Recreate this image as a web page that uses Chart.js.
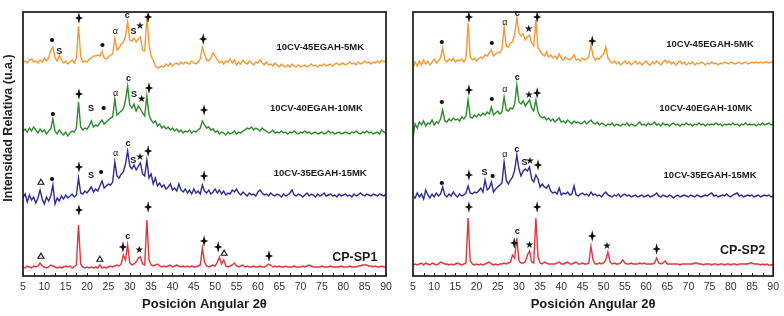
<!DOCTYPE html>
<html>
<head>
<meta charset="utf-8">
<script src="https://cdn.jsdelivr.net/npm/chart.js@4.4.1/dist/chart.umd.min.js"></script>
<style>
  body { margin: 0; background: #fff; }
  #wrap { position: relative; width: 784px; height: 316px; }
  .panel { position: absolute; top: 0; height: 316px; }
</style>
</head>
<body>
<div id="wrap">
  <div class="panel" style="left:0;width:400px"><canvas id="left" width="400" height="316"></canvas></div>
  <div class="panel" style="left:400px;width:384px"><canvas id="right" width="384" height="316"></canvas></div>
</div>
<script>
// 2-theta grid (degrees)
var twoTheta = [
  5,5.5,6,6.5,7,7.5,8,8.5,9,9.5,10,10.5,11,11.5,12,12.5,13,13.5,14,14.5,
  15,15.5,16,16.5,17,17.5,18,18.5,19,19.5,20,20.5,21,21.5,22,22.5,23,23.5,24,24.5,
  25,25.5,26,26.5,27,27.5,28,28.5,29,29.5,30,30.5,31,31.5,32,32.5,33,33.5,34,34.5,
  35,35.5,36,36.5,37,37.5,38,38.5,39,39.5,40,40.5,41,41.5,42,42.5,43,43.5,44,44.5,
  45,45.5,46,46.5,47,47.5,48,48.5,49,49.5,50,50.5,51,51.5,52,52.5,53,53.5,54,54.5,
  55,55.5,56,56.5,57,57.5,58,58.5,59,59.5,60,60.5,61,61.5,62,62.5,63,63.5,64,64.5,
  65,65.5,66,66.5,67,67.5,68,68.5,69,69.5,70,70.5,71,71.5,72,72.5,73,73.5,74,74.5,
  75,75.5,76,76.5,77,77.5,78,78.5,79,79.5,80,80.5,81,81.5,82,82.5,83,83.5,84,84.5,
  85,85.5,86,86.5,87,87.5,88,88.5,89,89.5,90
];

// ---- panel 1 (SP1) intensities, relative to each pattern's own baseline ----
var sp1_45_5 = [
  2,3,1,4,5,2,3,1,4,2, 6,3,6,14,17,6,3,9,4,1,
  3,0,2,4,1,6,38,8,2,3, 2,5,6,8,8,9,8,13,6,5,
  7,9,10,26,14,16,20,22,28,42, 24,23,26,22,25,27,14,13,48,20,
  8,4,-2,-4,-3,-2,-3,0,-2,1, -2,0,1,-1,2,0,2,1,0,3,
  1,0,2,5,17,10,4,3,6,11, 8,4,1,3,0,3,2,5,1,4,
  -1,2,0,4,1,0,3,1,-1,2, 1,4,1,-1,2,-1,0,-2,1,-1,
  -3,0,-2,-3,-1,-3,0,-2,-3,-1, -3,-2,-1,-3,-2,0,-2,-1,-3,-1,
  -2,0,-2,-1,0,-2,0,1,-1,0, 1,-1,0,2,0,1,-1,2,0,1,
  3,1,2,0,2,1,3,1,4,2,3
];
var sp1_40_10 = [
  2,4,1,5,2,6,3,0,4,1, 3,-1,2,4,14,2,-1,3,0,-2,
  1,-3,0,2,1,5,31,6,3,5, 4,7,12,6,8,7,10,13,9,11,
  13,15,16,34,18,20,22,24,33,47, 28,25,29,22,27,24,20,17,37,18,
  13,10,12,7,9,5,7,4,6,3, 5,2,4,1,3,0,2,1,3,0,
  2,1,3,5,12,8,5,6,3,4, 1,2,-1,1,0,-2,1,-1,0,2,
  -1,1,0,2,3,5,4,6,3,5, 4,2,5,3,2,0,1,3,0,1,
  0,2,0,1,-1,1,0,2,0,-1, 1,0,2,0,1,-1,0,1,-1,0,
  1,-1,0,2,0,1,-1,0,1,-1, 0,1,0,-1,1,0,2,0,-1,1,
  0,2,0,1,-1,0,1,-1,3,1,0
];
var sp1_35_15 = [
  -2,2,-6,1,-4,-1,-7,-2,6,-3, -8,-1,-5,0,11,-8,-2,-5,0,-3,
  1,-2,0,2,-1,1,18,3,2,5, 3,6,9,4,7,5,10,15,8,10,
  12,11,14,34,20,18,22,24,32,45, 30,27,31,26,30,33,22,20,36,18,
  22,12,18,10,13,9,11,7,9,12, 6,8,5,12,6,4,7,3,6,2,
  7,3,5,2,11,5,3,6,2,4, 7,3,6,2,5,1,3,2,6,4,
  7,3,1,4,2,0,3,1,2,0, 4,6,3,1,2,0,3,1,0,2,
  1,-1,2,0,1,3,6,1,0,2, 1,-1,1,3,0,2,1,-1,2,0,
  1,3,0,1,2,0,1,-1,2,0, 1,2,0,1,-1,2,0,1,3,1,
  0,2,1,0,2,1,0,2,1,0,2
];
var sp1_paste = [
  1,0,2,1,0,2,1,2,5,2, 1,0,1,3,2,1,0,1,0,1,
  2,1,2,0,1,3,43,4,1,0, 1,0,1,0,1,0,3,0,1,0,
  1,2,1,2,3,2,4,13,8,23, 5,3,4,6,10,11,4,3,48,8,
  3,2,3,4,2,1,2,1,2,3, 1,2,3,2,1,2,1,2,1,2,
  1,1,2,3,20,6,2,1,2,3, 2,6,11,4,8,2,1,2,3,5,
  2,1,2,3,1,2,1,1,2,1, 1,2,1,1,2,4,3,1,2,1,
  2,1,1,2,1,1,1,2,1,1, 1,2,1,2,3,2,1,1,1,1,
  2,1,1,1,2,1,1,1,1,2, 1,1,1,2,1,1,1,2,2,3,
  3,3,2,2,1,2,1,1,2,1,1
];

// ---- panel 2 (SP2) ----
var sp2_45_5 = [
  -4,2,-2,3,-1,4,0,3,-1,2, 5,1,3,6,16,4,2,5,3,6,
  2,4,3,5,2,6,41,7,4,6, 3,5,7,6,9,8,11,14,8,10,
  12,11,15,37,18,17,21,22,30,46, 31,28,30,24,27,29,21,18,44,16,
  13,10,8,12,7,9,6,8,5,10, 6,4,7,5,4,6,9,4,5,3,
  6,4,5,7,19,8,4,6,5,8, 10,17,6,3,1,3,0,2,-1,1,
  3,0,2,-1,1,3,0,2,-1,1, 3,0,-1,2,0,3,1,-1,2,4,
  1,3,0,2,-1,1,3,0,2,-1, 1,0,2,-1,1,0,2,1,-1,1,
  0,2,0,1,-1,1,0,2,1,0, 2,1,0,1,2,0,1,2,0,1,
  2,1,2,1,2,1,2,2,1,2,2
];
var sp2_40_10 = [
  -11,2,-2,4,1,5,0,3,2,6, 1,4,3,7,16,5,4,7,5,8,
  6,7,5,9,7,10,26,9,8,11, 9,12,10,13,11,14,12,19,11,13,
  15,12,14,29,16,15,18,17,22,41, 24,22,25,20,23,26,18,15,26,14,
  10,8,9,6,8,5,7,4,6,8, 4,5,3,6,4,2,5,3,4,2,
  3,5,2,4,6,3,2,4,1,3, 2,0,2,1,3,0,2,1,0,2,
  1,3,0,2,1,0,2,4,1,2, 0,3,1,2,4,1,2,0,3,1,
  2,0,2,3,1,2,0,2,1,3, 1,2,0,2,1,3,1,2,0,2,
  1,2,1,3,1,2,0,2,1,2, 1,3,1,2,0,2,1,3,1,2,
  1,2,0,2,1,3,1,2,3,1,2
];
var sp2_35_15 = [
  0,-2,3,-1,2,-3,6,1,-2,2, -1,3,0,2,9,1,-1,2,0,4,
  1,-1,2,0,1,3,10,3,2,4, 3,5,8,4,16,6,8,14,4,7,
  9,11,13,34,16,12,16,19,26,41, 27,20,25,27,25,29,17,14,21,17,
  9,12,9,8,11,5,3,4,2,8, 1,3,2,4,1,2,10,1,0,2,
  3,1,2,0,4,1,2,0,1,-1, 2,4,1,0,-1,1,0,2,-1,1,
  2,0,1,-1,0,1,-1,0,1,-1, 0,1,-1,0,1,3,0,-1,1,0,
  -1,1,0,-2,0,1,-1,0,1,0, -1,1,0,-1,1,0,-1,0,1,0,
  2,3,0,1,-1,0,1,0,2,0, -1,1,2,3,0,1,-1,0,1,0,
  1,-1,0,1,-1,0,1,0,1,-1,0
];
var sp2_paste = [
  0,1,0,1,2,0,2,1,0,2, 1,0,1,3,2,1,1,0,1,0,
  1,2,1,0,1,2,47,4,1,0, 1,0,1,0,1,2,3,1,0,1,
  0,1,1,2,1,2,3,10,7,27, 4,2,2,3,10,14,3,2,47,8,
  2,1,3,2,1,1,1,1,2,3, 1,1,2,3,1,1,2,3,1,1,
  2,1,1,2,19,5,1,1,2,1, 2,5,13,3,1,2,1,1,2,5,
  2,1,1,2,1,1,1,2,1,2, 1,1,1,1,2,7,2,1,2,4,
  1,1,1,1,1,1,0,1,1,1, 1,1,1,2,2,1,1,0,1,1,
  1,0,1,1,0,1,1,0,1,1, 0,1,1,0,1,1,1,1,1,2,
  2,1,1,1,0,1,0,1,0,0,0
];

var namesLeft = ['10CV-45EGAH-5MK', '10CV-40EGAH-10MK', '10CV-35EGAH-15MK', 'CP-SP1'];
var namesRight = ['10CV-45EGAH-5MK', '10CV-40EGAH-10MK', '10CV-35EGAH-15MK', 'CP-SP2'];

// vertical stacking offsets of each pattern (chart units)
var offsetsLeft = [212, 143, 80, 8];
var offsetsRight = [212, 150, 80, 11];
var colors = ['#f39a36', '#2c8c2c', '#2d2d8f', '#e2353c'];

// phase markers: [2theta, height, symbol]
var markersLeft = [
  [11.8,236,'●'],[13.5,224,'S'],[18.1,258,'✦'],[23.6,231,'●'],[26.6,244,'α'],[29.4,260,'c'],[30.9,244,'S'],[32.4,250,'★'],[34.3,259,'✦'],[47.2,237,'✦'],
  [12,162,'●'],[18.1,182,'✦'],[20.9,167,'S'],[23.9,168,'●'],[26.7,182,'α'],[29.7,197,'c'],[31,181,'S'],[32.8,177,'★'],[34.5,188,'✦'],[47.4,166,'✦'],
  [9.2,94,'Δ'],[11.8,97,'●'],[18.1,109,'✦'],[20.9,100,'S'],[23.3,104,'●'],[26.7,122,'α'],[29.6,132,'c'],[30.8,115,'S'],[32.4,119,'★'],[34.3,125,'✦'],[47.4,100,'✦'],
  [9.2,20,'Δ'],[18.1,66,'✦'],[23,17,'Δ'],[28.4,29,'✦'],[29.5,39,'c'],[32.2,26,'★'],[34.3,69,'✦'],[47.4,35,'✦'],[50.7,29,'✦'],[52.1,23,'Δ'],[62.6,20,'✦']
];
var markersRight = [
  [11.8,234,'●'],[18.2,259,'✦'],[23.6,233,'●'],[26.7,253,'α'],[29.6,262,'c'],[32.3,247,'★'],[34.3,259,'✦'],[47.3,235,'✦'],
  [11.8,174,'●'],[18.2,186,'✦'],[23.6,177,'●'],[26.7,186,'α'],[29.6,198,'c'],[32.4,181,'★'],[34.3,183,'✦'],
  [11.8,93,'●'],[18.2,101,'✦'],[21.9,103,'S'],[23.8,100,'●'],[26.7,121,'α'],[29.5,126,'c'],[31.3,113,'S'],[32.6,115,'★'],[34.5,111,'✦'],
  [18.2,69,'✦'],[28.9,33,'✦'],[29.6,44,'c'],[32.5,31,'★'],[34.3,69,'✦'],[47.3,40,'✦'],[50.8,30,'★'],[62.5,27,'✦']
];

// sample names: [2theta centre, height, size]
var labelPosLeft = [[74.6,229,9.5],[73.7,168,9.5],[74.6,103,9.5],[82.7,18,12.5]];
var labelPosRight = [[75.1,232,9.5],[74.1,168,9.5],[75.1,101,9.5],[82.8,25,12.5]];

var FONT = '"Liberation Sans", Arial, sans-serif';

function toPoints(vals, off) {
  return vals.map(function (v, i) { return { x: twoTheta[i], y: v + off }; });
}

function drawMarker(ctx, x, y, s) {
  ctx.fillStyle = '#111';
  ctx.strokeStyle = '#111';
  ctx.textAlign = 'center';
  ctx.textBaseline = 'middle';
  if (s === '✦') {
    ctx.beginPath();
    ctx.moveTo(x, y - 5.8);
    ctx.lineTo(x + 1.2, y - 1.2);
    ctx.lineTo(x + 4.2, y);
    ctx.lineTo(x + 1.2, y + 1.2);
    ctx.lineTo(x, y + 5.8);
    ctx.lineTo(x - 1.2, y + 1.2);
    ctx.lineTo(x - 4.2, y);
    ctx.lineTo(x - 1.2, y - 1.2);
    ctx.closePath();
    ctx.fill();
  } else if (s === '●') {
    ctx.beginPath();
    ctx.arc(x, y, 2.1, 0, Math.PI * 2);
    ctx.fill();
  } else if (s === 'Δ') {
    ctx.lineWidth = 1.1;
    ctx.beginPath();
    ctx.moveTo(x, y - 2.8);
    ctx.lineTo(x + 3, y + 2.3);
    ctx.lineTo(x - 3, y + 2.3);
    ctx.closePath();
    ctx.stroke();
  } else if (s === '★') {
    ctx.font = '10px "DejaVu Sans"';
    ctx.fillText(s, x, y);
  } else if (s === 'α') {
    ctx.font = '9px ' + FONT;
    ctx.fillText(s, x, y);
  } else {
    ctx.font = 'bold 9px ' + FONT;
    ctx.fillText(s, x, y);
  }
}

function makeDecor(markers, names, labelPos, yTitle) {
  return {
    id: 'decor',
    afterDatasetsDraw: function (chart) {
      var ctx = chart.ctx, a = chart.chartArea;
      var xs = chart.scales.x, ys = chart.scales.y;
      ctx.save();
      // inward tick marks
      ctx.strokeStyle = '#222';
      ctx.lineWidth = 1;
      for (var t = 5; t <= 90; t += 2.5) {
        var px = Math.round(xs.getPixelForValue(t)) + 0.5;
        ctx.beginPath();
        ctx.moveTo(px, a.bottom);
        ctx.lineTo(px, a.bottom - 3);
        ctx.stroke();
      }
      // frame
      ctx.lineWidth = 1.7;
      ctx.strokeStyle = '#1a1a1a';
      ctx.strokeRect(a.left, a.top, a.right - a.left, a.bottom - a.top);
      // phase markers
      markers.forEach(function (m) {
        drawMarker(ctx, xs.getPixelForValue(m[0]), ys.getPixelForValue(m[1]), m[2]);
      });
      // sample names
      ctx.fillStyle = '#1a1a1a';
      ctx.textAlign = 'center';
      ctx.textBaseline = 'middle';
      names.forEach(function (n, i) {
        var p = labelPos[i];
        ctx.font = 'bold ' + p[2] + 'px ' + FONT;
        ctx.fillText(n, xs.getPixelForValue(p[0]), ys.getPixelForValue(p[1]));
      });
      // y title
      if (yTitle) {
        ctx.translate(9, 128);
        ctx.rotate(-Math.PI / 2);
        ctx.font = 'bold 12.5px ' + FONT;
        ctx.fillStyle = '#222';
        ctx.fillText(yTitle, 0, 0);
      }
      ctx.restore();
    }
  };
}

function buildChart(id, series, offsets, markers, names, labelPos, pad, yTitle) {
  var datasets = series.map(function (s, i) {
    return {
      label: names[i],
      data: toPoints(s, offsets[i]),
      borderColor: colors[i],
      borderWidth: 1.4,
      pointRadius: 0,
      tension: 0,
      fill: false
    };
  });
  return new Chart(document.getElementById(id), {
    type: 'line',
    data: { datasets: datasets },
    options: {
      responsive: false,
      animation: false,
      devicePixelRatio: 1,
      layout: { padding: pad },
      plugins: { legend: { display: false }, tooltip: { enabled: false } },
      scales: {
        x: {
          type: 'linear', min: 5, max: 90,
          ticks: { stepSize: 5, autoSkip: false, maxRotation: 0, padding: 5, color: '#333',
                   font: { family: FONT, size: 10.5 } },
          grid: { display: false, drawTicks: false },
          border: { display: false },
          title: { display: true, text: 'Posición Angular 2θ', color: '#1a1a1a',
                   font: { family: FONT, size: 13, weight: 'bold' }, padding: { top: 0, bottom: 4 } },
          afterFit: function (s) { s.height = 40; }
        },
        y: { display: false, min: 0, max: 264 }
      }
    },
    plugins: [makeDecor(markers, names, labelPos, yTitle)]
  });
}

buildChart('left', [sp1_45_5, sp1_40_10, sp1_35_15, sp1_paste], offsetsLeft, markersLeft,
  namesLeft, labelPosLeft, { left: 23, right: 14, top: 12, bottom: 0 }, 'Intensidad Relativa (u.a.)');
buildChart('right', [sp2_45_5, sp2_40_10, sp2_35_15, sp2_paste], offsetsRight, markersRight,
  namesRight, labelPosRight, { left: 13, right: 9, top: 12, bottom: 0 }, null);
</script>
</body>
</html>
